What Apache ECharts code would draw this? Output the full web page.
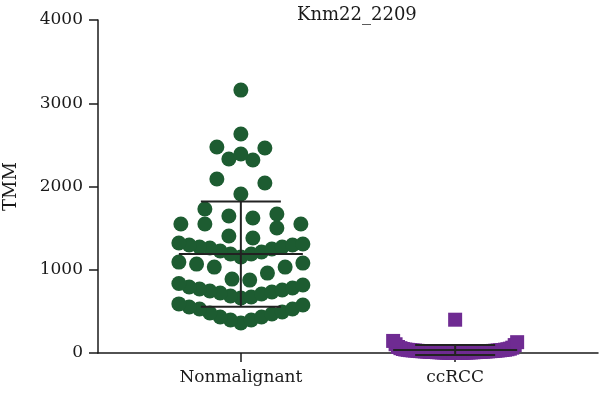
<!DOCTYPE html>
<html>
<head>
<meta charset="utf-8">
<script src="https://cdn.jsdelivr.net/npm/echarts@6/dist/echarts.min.js"></script>
<style>
  html, body { margin: 0; padding: 0; background: #fff; }
  #chart { width: 600px; height: 397px; }
</style>
</head>
<body>
<div id="chart"></div>
<script>
// groups and values (TMM)
const groups = ["Nonmalignant", "ccRCC"];
const nonmalignant = [
  360, 396, 396, 432, 432, 468, 480, 492, 528, 528, 552, 576, 590,
  660, 672, 684, 708, 720, 732, 744, 756, 768, 780, 792, 816, 835,
  876, 888, 960, 1032, 1032, 1068, 1080, 1092,
  1153, 1189, 1189, 1213, 1225, 1249, 1261, 1273, 1273, 1297, 1297, 1309, 1321,
  1381, 1405, 1501, 1549, 1549, 1549,
  1621, 1645, 1669, 1729,
  1910, 2042, 2090,
  2318, 2330,
  2390, 2462, 2474,
  2630, 3158
];
const ccrcc = [
  0, 0, 1, 1, 2, 3, 3, 4, 5, 6, 6, 7, 8, 9, 9, 10, 11, 12, 13, 13,
  14, 15, 16, 17, 18, 19, 20, 21, 22, 23, 25, 26, 27, 29, 30, 31, 33,
  34, 36, 38, 40, 42, 45, 48, 52, 58, 64, 72, 95, 105, 130, 145, 400
];
const yTicks = [0, 1000, 2000, 3000, 4000];

const W = 600;
const gridLeft = 98, gridRight = 2;
const xMin = 1 / 3, xMax = 8 / 3;
const pxPerX = (W - gridLeft - gridRight) / (xMax - xMin);

// prism-like row layout: bin values, sort, spread each row around the centre
const BIN = 250;
const MAX_STEP = 24, MAX_WIDTH = 124;
function swarm(values, center) {
  const sorted = values.slice().sort((a, b) => a - b);
  const rows = {};
  sorted.forEach((v) => {
    const k = Math.floor((v - sorted[0]) / BIN);
    (rows[k] = rows[k] || []).push(v);
  });
  const out = [];
  Object.keys(rows).forEach((k) => {
    const row = rows[k];
    const n = row.length;
    const step = n > 1 ? Math.min(MAX_STEP, MAX_WIDTH / (n - 1)) : 0;
    row.forEach((v, i) => {
      let slot;
      if (n % 2) slot = i === 0 ? 0 : (i % 2 ? 1 : -1) * Math.ceil(i / 2);
      else slot = (i % 2 ? -1 : 1) * (Math.floor(i / 2) + 0.5);
      out.push([center + (slot * step) / pxPerX, v]);
    });
  });
  return out;
}

function meanSd(values) {
  const m = values.reduce((a, b) => a + b, 0) / values.length;
  const s = Math.sqrt(values.reduce((a, b) => a + (b - m) * (b - m), 0) / (values.length - 1));
  return [m, s];
}

const stats = [nonmalignant, ccrcc].map((vals, i) => {
  const [m, s] = meanSd(vals);
  return [i + 1, m, s];
});

const serif = "DejaVu Serif";
const chart = echarts.init(document.getElementById("chart"));
chart.setOption({
  animation: false,
  title: {
    text: "Knm22_2209",
    left: 292,
    top: 1,
    textStyle: { fontFamily: serif, fontSize: 18, fontWeight: "normal", color: "#1a1a1a" },
  },
  grid: { left: gridLeft, right: gridRight, top: 20, bottom: 44, outerBoundsMode: "none" },
  xAxis: {
    type: "value",
    min: xMin,
    max: xMax,
    splitLine: { show: false },
    axisLine: { lineStyle: { color: "#1a1a1a", width: 1.5 } },
    axisTick: { show: true, customValues: [1, 2], length: 9, lineStyle: { color: "#1a1a1a", width: 1.5 } },
    axisLabel: {
      customValues: [1, 2],
      formatter: (v) => groups[Math.round(v) - 1],
      margin: 16,
      fontFamily: serif,
      fontSize: 17,
      color: "#1a1a1a",
    },
  },
  yAxis: {
    type: "value",
    min: yTicks[0],
    max: yTicks[yTicks.length - 1],
    interval: 1000,
    name: "TMM",
    nameLocation: "middle",
    nameGap: 78,
    nameTextStyle: { fontFamily: serif, fontSize: 18, color: "#1a1a1a" },
    splitLine: { show: false },
    axisLine: { show: true, lineStyle: { color: "#1a1a1a", width: 1.5 } },
    axisTick: { show: true, length: 9, lineStyle: { color: "#1a1a1a", width: 1.5 } },
    axisLabel: {
      margin: 15,
      formatter: (v) => String(v),
      fontFamily: serif,
      fontSize: 17,
      color: "#1a1a1a",
    },
  },
  series: [
    {
      name: groups[0],
      type: "scatter",
      symbol: "circle",
      symbolSize: 15,
      itemStyle: { color: "#1d5c31", opacity: 1 },
      data: swarm(nonmalignant, 1),
    },
    {
      name: groups[1],
      type: "scatter",
      symbol: "rect",
      symbolSize: 14,
      itemStyle: { color: "#6f2b92", opacity: 1 },
      data: swarm(ccrcc, 2),
    },
    {
      // mean line + SD whiskers
      type: "custom",
      z: 10,
      data: stats,
      renderItem: (params, api) => {
        const x = api.value(0), m = api.value(1), s = api.value(2);
        const c = api.coord([x, m]);
        const top = api.coord([x, m + s]);
        const bot = api.coord([x, Math.max(m - s, -200)]);
        const st = { stroke: "#222", lineWidth: 2 };
        return {
          type: "group",
          children: [
            { type: "line", shape: { x1: c[0] - 62, y1: c[1], x2: c[0] + 62, y2: c[1] }, style: st },
            { type: "line", shape: { x1: c[0], y1: top[1], x2: c[0], y2: bot[1] }, style: st },
            { type: "line", shape: { x1: c[0] - 40, y1: top[1], x2: c[0] + 40, y2: top[1] }, style: st },
            { type: "line", shape: { x1: c[0] - 40, y1: bot[1], x2: c[0] + 40, y2: bot[1] }, style: st },
          ],
        };
      },
    },
  ],
});
</script>
</body>
</html>
